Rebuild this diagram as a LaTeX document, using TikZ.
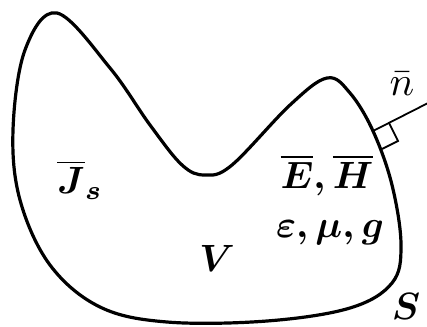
\documentclass[tikz,border=0pt]{standalone}
\usepackage{amsmath}
\usepackage{graphicx}
\usetikzlibrary{arrows}
\newcommand{\biglbl}[1]{\scalebox{3.8}{#1}}

\begin{document}
\begin{tikzpicture}[x=1pt,y=-1pt,
	lbl/.style={inner sep=0pt},
	bnd/.style={line width=3.2pt, line join=round}]
	\useasboundingbox (0,0) rectangle (427,326);
	\clip (0,0) rectangle (427,326);
	% surface S
	\draw[bnd] plot[smooth cycle, tension=0.6] coordinates {(57,13) (110,68) (150,125) (182,165) (205,175) (232,165) (290,105) (327,78) (350,93) (373,131) (392,185) (401,245) (392,283) (350,308) (267,321) (167,322) (100,307) (50,265) (20,200) (13,130) (25,50)};
	% normal with right-angle mark
	\coordinate (nbase) at (373,131);
	\coordinate (ntip) at (434,100);
	\draw[line width=1.8pt, -stealth] (nbase) -- (ntip);
	\draw[line width=1.8pt] (nbase) ++(16,-8) -- ++(9,18) -- ++(-16,8);
	% labels
	\node[lbl] (n) at (402,84) {\scalebox{4.1}{$\bar{n}$}};
	\node[lbl] (js) at (80,180) {\biglbl{$\boldsymbol{\overline{J}_{s}}$}};
	\node[lbl] (eh) at (327,175) {\biglbl{$\boldsymbol{\overline{E}, \overline{H}}$}};
	\node[lbl] (emg) at (330,233) {\biglbl{$\boldsymbol{\varepsilon, \mu, g}$}};
	\node[lbl] (vol) at (217,258) {\biglbl{$\boldsymbol{V}$}};
	\node[lbl] (srf) at (406,306) {\biglbl{$\boldsymbol{S}$}};
\end{tikzpicture}
\end{document}
